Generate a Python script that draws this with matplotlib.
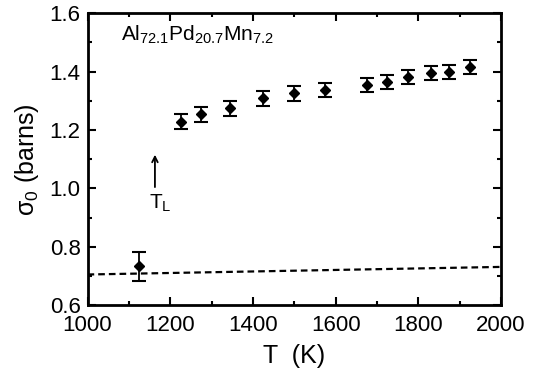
import matplotlib.pyplot as plt
from matplotlib.ticker import MultipleLocator

plt.rcParams['font.family'] = ['Liberation Sans', 'DejaVu Sans']
plt.rcParams['mathtext.fontset'] = 'custom'
plt.rcParams['mathtext.rm'] = 'Liberation Sans'
plt.rcParams['mathtext.it'] = 'Liberation Sans'

# data
temp = [1125, 1225, 1275, 1345, 1425, 1500, 1575, 1675, 1725, 1775, 1830, 1875, 1925]
sigma0 = [0.733, 1.229, 1.254, 1.274, 1.309, 1.326, 1.338, 1.354, 1.364, 1.381, 1.394, 1.399, 1.416]
err = [0.049, 0.025, 0.025, 0.025, 0.025, 0.025, 0.024, 0.024, 0.024, 0.024, 0.024, 0.024, 0.025]

# dashed reference line
line_t = [1000, 2000]
line_s = [0.705, 0.731]

fig = plt.figure(figsize=(5.37, 3.8), dpi=100)
ax = fig.add_axes([0.163, 0.197, 0.77, 0.768])

ax.plot(line_t, line_s, color='black', lw=1.6, linestyle=(0, (3, 1.8)))
ax.errorbar(temp, sigma0, yerr=err, fmt='D', color='black', ms=5.5,
            capsize=5, capthick=1.5, elinewidth=1.3)

ax.annotate('', xy=(1163, 1.125), xytext=(1163, 0.995),
            arrowprops=dict(arrowstyle='->', color='black', lw=1.3))
ax.text(1148, 0.95, 'T$_{\\rm L}$', fontsize=15, va='center', ha='left')
ax.text(1082, 1.525, r'Al$_{72.1}$Pd$_{20.7}$Mn$_{7.2}$', fontsize=15, va='center')

ax.set_xlim(1000, 2000)
ax.set_ylim(0.6, 1.6)
ax.xaxis.set_major_locator(MultipleLocator(200))
ax.xaxis.set_minor_locator(MultipleLocator(100))
ax.yaxis.set_major_locator(MultipleLocator(0.2))
ax.yaxis.set_minor_locator(MultipleLocator(0.1))
ax.yaxis.set_major_formatter(plt.FormatStrFormatter('%.1f'))
ax.tick_params(which='both', direction='in', top=True, right=True, width=1.5)
ax.tick_params(which='major', length=6, labelsize=16)
ax.tick_params(axis='x', which='major', pad=7)
ax.tick_params(axis='y', which='major', pad=5)
ax.tick_params(which='minor', length=3)
for s in ax.spines.values():
    s.set_linewidth(2)

ax.set_xlabel('T  (K)', fontsize=18, labelpad=6)
ax.set_ylabel('σ$_0$ (barns)', fontsize=18, labelpad=6)

plt.savefig('out.png', dpi=100)
